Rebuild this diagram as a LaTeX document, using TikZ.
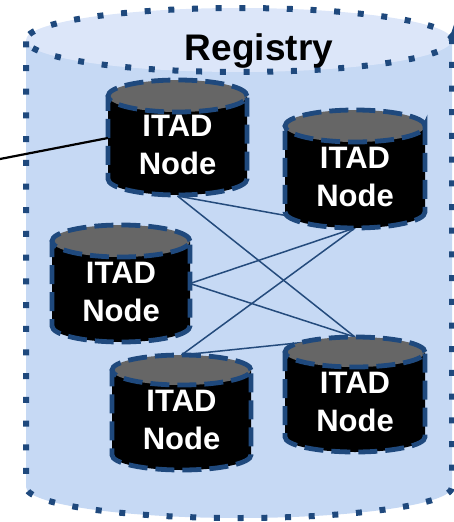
\documentclass[tikz,border=0pt]{standalone}
\usepackage{fontspec}
\setmainfont{Liberation Sans}
\definecolor{regbody}{HTML}{C6D9F4}
\definecolor{regtop}{HTML}{DCE6F9}
\definecolor{darkblue}{HTML}{1F497D}
\definecolor{linkblue}{HTML}{244B7C}
\definecolor{cyltop}{HTML}{666666}
\pgfdeclarelayer{bg}
\pgfdeclarelayer{links}
\pgfsetlayers{bg,links,main}
\tikzset{
  regborder/.style={draw=darkblue, line width=6pt, dash pattern=on 6pt off 17.7pt, line cap=butt},
  cylborder/.style={draw=darkblue, line width=4.8pt, dash pattern=on 19pt off 8pt},
  itadtext/.style={text=white, font=\fontsize{31}{38}\selectfont\bfseries, align=center, inner sep=0pt},
  regtext/.style={text=black, font=\fontsize{37}{40}\selectfont\bfseries, inner sep=0pt},
  link/.style={draw=linkblue, line width=1.5pt},
  extline/.style={draw=black, line width=2.2pt}
}
% #1 name, #2 cx, #3 top center y, #4 bottom center y, #5 rx, #6 ry, #7 text center y
\newcommand\itadcyl[7]{%
  \fill[black] (#2-#5,-#3) -- (#2-#5,-#4) arc[start angle=180,end angle=360,x radius=#5,y radius=#6] -- (#2+#5,-#3) -- cycle;
  \fill[cyltop] (#2,-#3) ellipse[x radius=#5,y radius=#6];
  \draw[cylborder] (#2+#5,-#3) arc[start angle=0,end angle=360,x radius=#5,y radius=#6] -- (#2+#5,-#4) arc[start angle=0,end angle=-180,x radius=#5,y radius=#6] -- (#2-#5,-#3);
  \node[itadtext] (#1) at (#2,-#7) {ITAD\\Node};
}
\begin{document}
\begin{tikzpicture}[x=1pt,y=1pt]
\useasboundingbox (0,0) rectangle (453,-522);
% anchor coordinates
\coordinate (A-bot) at (177.5,-196);
\coordinate (A-left) at (108,-138);
\coordinate (B-bot) at (355,-228);
\coordinate (C-right) at (190,-283.5);
\coordinate (D-top) at (181.5,-355);
\coordinate (E-top) at (355,-337);
\coordinate (ext) at (0,-159);
% registry cylinder
\begin{pgfonlayer}{bg}
  \fill[regbody] (26,-40) -- (26,-487) arc[start angle=180,end angle=360,x radius=213,y radius=31] -- (452,-40) -- cycle;
  \fill[regtop] (239,-40) ellipse[x radius=213,y radius=32];
  \draw[regborder] (452,-40) arc[start angle=0,end angle=360,x radius=213,y radius=32] -- (452,-487) arc[start angle=0,end angle=-180,x radius=213,y radius=31] -- (26,-40);
\end{pgfonlayer}
\node[regtext, anchor=base] (reg) at (259,-60) {Registry};
% links
\begin{pgfonlayer}{links}
  \draw[link] (A-bot) -- (B-bot);
  \draw[link] (A-bot) -- (E-top);
  \draw[link] (C-right) -- (B-bot);
  \draw[link] (C-right) -- (E-top);
  \draw[link] (D-top) -- (B-bot);
  \draw[link] (D-top) -- (E-top);
\end{pgfonlayer}
% ITAD nodes
\itadcyl{A}{177.5}{96}{179}{69.5}{16}{145}
\itadcyl{B}{355}{126}{212}{70}{16}{177}
\itadcyl{C}{121}{241}{326}{69}{16}{291.5}
\itadcyl{D}{181.5}{370}{455}{69.5}{15}{420}
\itadcyl{E}{355}{352}{437}{70}{15}{401.5}
\draw[extline] (ext) -- (A-left);
\end{tikzpicture}
\end{document}
